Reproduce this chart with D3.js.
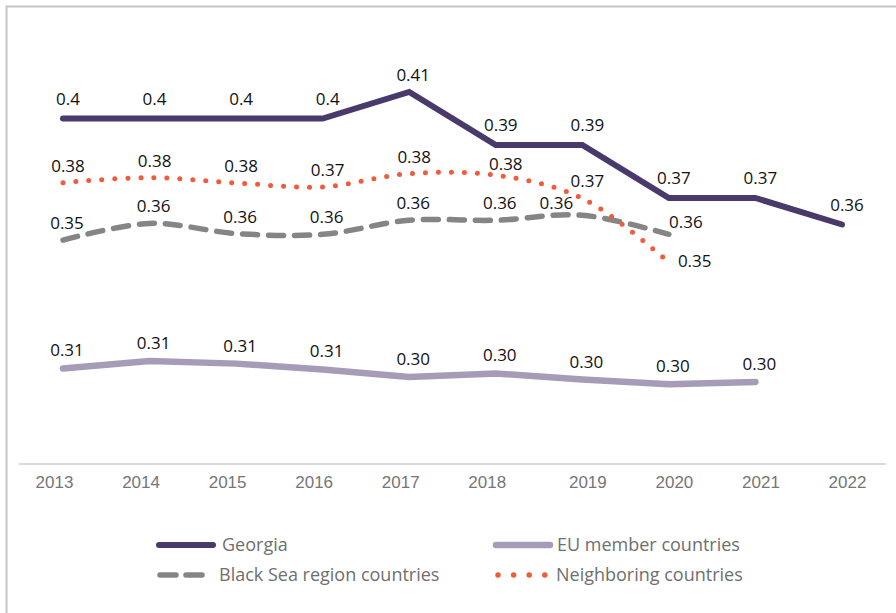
<!DOCTYPE html>
<html>
<head>
<meta charset="utf-8">
<script src="https://cdn.jsdelivr.net/npm/d3@7"></script>
<style>
    body { margin: 0; background: #fff; }
    svg { display: block; font-family: 'Open Sans', 'Noto Sans', sans-serif; }
</style>
</head>
<body>
<script>
'use strict';

/* globals d3 */

// Chart data
var years = ['2013', '2014', '2015', '2016', '2017', '2018', '2019', '2020', '2021', '2022'];
var georgia = [0.40, 0.40, 0.40, 0.40, 0.41, 0.39, 0.39, 0.37, 0.37, 0.36];
var euMembers = [0.3057, 0.3085, 0.3075, 0.3053, 0.3025, 0.3038, 0.3015, 0.2997, 0.3006, null];
var blackSea = [0.3541, 0.3604, 0.3566, 0.3563, 0.3616, 0.3616, 0.3635, 0.3563, null, null];
var neighbors = [0.3758, 0.3777, 0.3757, 0.3742, 0.3792, 0.3786, 0.3699, 0.3457, null, null];

var seriesNames = ['Georgia', 'EU member countries', 'Black Sea region countries', 'Neighboring countries'];

var chart = {

    settings: {
        width: 896,
        height: 613,
        axis_y: 464,
        label_size: 17,
        legend_size: 18
    },

    series: [
        {key: 'georgia', name: seriesNames[0], values: georgia, color: '#4a3a6b', width: 6, dash: null, curve: d3.curveLinear, fmt: d3.format('.2~f'), dy: -14, dx: 5},
        {key: 'eu', name: seriesNames[1], values: euMembers, color: '#a79cb7', width: 6.5, dash: null, curve: d3.curveLinear, fmt: d3.format('.2f'), dy: -12, dx: 4},
        {key: 'blacksea', name: seriesNames[2], values: blackSea, color: '#858585', width: 5.5, dash: '15,11', curve: d3.curveCatmullRom.alpha(0.5), fmt: d3.format('.2f'), dy: -11, dx: 4},
        {key: 'neighbor', name: seriesNames[3], values: neighbors, color: '#f15a3b', width: 5, dash: '0,13', curve: d3.curveCatmullRom.alpha(0.5), fmt: d3.format('.2f'), dy: -11, dx: 5}
    ],

    init: function () {
        var s = chart.settings;
        chart.svg = d3.select('body').append('svg')
                .attr('width', s.width)
                .attr('height', s.height);

        chart.svg.append('rect').attr('width', s.width).attr('height', s.height).attr('fill', '#fff');

        // frame, only top and left edges are visible in the picture
        chart.svg.append('rect')
                .attr('x', 6.5).attr('y', 6.5)
                .attr('width', s.width + 20).attr('height', s.height + 20)
                .attr('fill', 'none').attr('stroke', '#c6c6c6').attr('stroke-width', 2);

        chart.x = d3.scalePoint().domain(years).range([63, 842]);
        chart.y = d3.scaleLinear().domain([0.27, 0.44]).range([463, 12.5]);

        chart.drawAxis();
        chart.drawLines();
        chart.drawLabels();
        chart.drawLegend();
    },

    drawAxis: function () {
        var s = chart.settings;
        var axis = d3.axisBottom(chart.x).tickSize(0).tickPadding(12);
        var g = chart.svg.append('g')
                .attr('transform', 'translate(0,' + s.axis_y + ')')
                .call(axis);
        g.select('.domain').remove();
        g.append('line')
                .attr('x1', 19).attr('x2', 886)
                .attr('stroke', '#dadada').attr('stroke-width', 2);
        // the year labels are nudged a bit in the original
        g.selectAll('.tick text')
                .attr('font-family', null)
                .attr('font-size', s.label_size)
                .attr('fill', '#767676')
                .attr('dy', '0.71em')
                .attr('dx', function (d, i) { return i < 6 ? -9 : 5; });
    },

    drawLines: function () {
        chart.series.forEach(function (ser) {
            var line = d3.line()
                    .defined(function (d) { return d != null; })
                    .x(function (d, i) { return chart.x(years[i]); })
                    .y(function (d) { return chart.y(d); })
                    .curve(ser.curve);
            chart.svg.append('path')
                    .datum(ser.values)
                    .attr('class', 'line line-' + ser.key)
                    .attr('d', line)
                    .attr('fill', 'none')
                    .attr('stroke', ser.color)
                    .attr('stroke-width', ser.width)
                    .attr('stroke-linecap', 'round')
                    .attr('stroke-linejoin', ser.dash ? 'round' : 'miter')
                    .attr('stroke-dasharray', ser.dash);
        });
    },

    labelPos: function (ser, i, x, y) {
        if (ser.key === 'neighbor' && i === 7) return [x + 9, y + 5, 'start'];
        if (ser.key === 'neighbor' && i === 5) return [x + 10, y - 5, 'middle'];
        if (ser.key === 'blacksea' && i === 6) return [x - 26, y - 6, 'middle'];
        if (ser.key === 'blacksea' && i === 7) return [x + 17, y - 6, 'middle'];
        if (ser.key === 'georgia' && i === 4) return [x + 4, y - 11, 'middle'];
        return [x + ser.dx, y + ser.dy, 'middle'];
    },

    drawLabels: function () {
        var s = chart.settings;
        chart.series.forEach(function (ser) {
            var pts = ser.values.map(function (v, i) { return {v: v, i: i}; })
                    .filter(function (d) { return d.v != null; });
            chart.svg.append('g').attr('class', 'labels-' + ser.key)
                    .selectAll('text').data(pts).enter().append('text')
                    .each(function (d) {
                        var p = chart.labelPos(ser, d.i, chart.x(years[d.i]), chart.y(d.v));
                        d3.select(this).attr('x', p[0]).attr('y', p[1]).attr('text-anchor', p[2]);
                    })
                    .attr('font-size', s.label_size)
                    .attr('fill', '#111')
                    .text(function (d) { return ser.fmt(d.v); });
        });
    },

    drawLegend: function () {
        var s = chart.settings;
        var items = [
            {ser: chart.series[0], x: 159, y: 545, len: 54, tx: 222},
            {ser: chart.series[1], x: 496, y: 545, len: 54, tx: 557},
            {ser: chart.series[2], x: 160, y: 575, len: 42, tx: 219, dash: '16,10'},
            {ser: chart.series[3], x: 498, y: 575, len: 47, tx: 556, dash: '0,15.6'}
        ];
        var g = chart.svg.append('g').attr('class', 'legend');
        items.forEach(function (it) {
            g.append('line')
                    .attr('x1', it.x).attr('x2', it.x + it.len)
                    .attr('y1', it.y).attr('y2', it.y)
                    .attr('stroke', it.ser.color)
                    .attr('stroke-width', it.ser.key === 'neighbor' ? 5.5 : it.ser.width)
                    .attr('stroke-linecap', 'round')
                    .attr('stroke-dasharray', it.dash || null);
            g.append('text')
                    .attr('x', it.tx).attr('y', it.y + 6)
                    .attr('font-size', s.legend_size)
                    .attr('fill', '#6f6f6f')
                    .text(it.ser.name);
        });
    }
};

chart.init();
</script>
</body>
</html>
